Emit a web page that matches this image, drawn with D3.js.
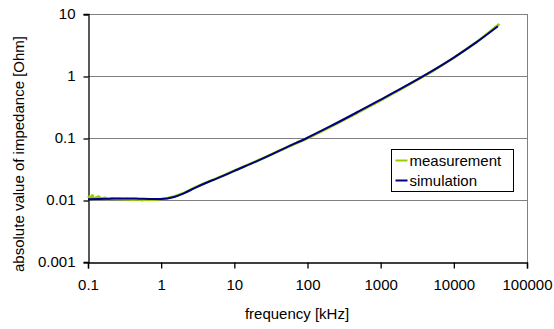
<!DOCTYPE html>
<html>
<head>
<meta charset="utf-8">
<script src="https://cdn.jsdelivr.net/npm/d3@7"></script>
<style>
  html, body { margin: 0; padding: 0; background: #fff; }
  svg { display: block; font-family: "Liberation Sans", Arial, sans-serif; }
  .tick text { font-size: 15px; fill: #000; }
</style>
</head>
<body>
<div id="chart"></div>
<script>
// Impedance vs frequency, log-log, measurement vs simulation

const xTicks = [0.1, 1, 10, 100, 1000, 10000, 100000];
const yTicks = [0.001, 0.01, 0.1, 1, 10];

const measFreq = [0.1, 0.105, 0.11, 0.115, 0.12, 0.13, 0.14, 0.15, 0.17, 0.19, 0.21, 0.24,
    0.27, 0.3, 0.35, 0.4, 0.45, 0.5, 0.55, 0.6, 0.65, 0.7, 0.8, 0.9, 1, 1.2, 1.5, 2, 3,
    4, 5, 7, 10, 20, 50, 100, 200, 500, 1000, 2000, 5000, 10000, 20000, 42000];
const measVal = [0.0108, 0.0114, 0.0106, 0.0119, 0.0104, 0.0110, 0.0114, 0.0105, 0.0109,
    0.0103, 0.0107, 0.0104, 0.0105, 0.0103, 0.0104, 0.0101, 0.0102, 0.0103, 0.0099,
    0.0102, 0.0100, 0.0102, 0.0101, 0.0103, 0.0104, 0.0107, 0.0114, 0.0128, 0.0162,
    0.0188, 0.0209, 0.0246, 0.0296, 0.0422, 0.0690, 0.099, 0.149, 0.262, 0.405, 0.635,
    1.18, 1.97, 3.45, 6.9];

const simFreq = [0.1, 0.2, 0.3, 0.5, 0.7, 1, 1.5, 2, 3, 4, 5, 7, 10, 20, 50, 100, 200,
    500, 1000, 2000, 5000, 10000, 20000, 40000];
const simVal = [0.0103, 0.0105, 0.0106, 0.0105, 0.0104, 0.0104, 0.0112, 0.0127, 0.0160,
    0.0186, 0.0208, 0.0245, 0.0295, 0.0420, 0.0695, 0.101, 0.152, 0.268, 0.415, 0.647,
    1.196, 1.98, 3.45, 6.35];

const width = 554, height = 329;
const margin = { top: 14, right: 27, bottom: 67, left: 88 };
const innerW = width - margin.left - margin.right;
const innerH = height - margin.top - margin.bottom;

const svg = d3.select("#chart").append("svg")
    .attr("width", width).attr("height", height);

const g = svg.append("g")
    .attr("transform", `translate(${margin.left},${margin.top})`);

const x = d3.scaleLog().domain([0.1, 100000]).range([0, innerW]);
const y = d3.scaleLog().domain([0.001, 10]).range([innerH, 0]);

// gridlines + frame (gray)
g.selectAll(".grid").data(yTicks.slice(1))
    .enter().append("line")
    .attr("x1", 0).attr("x2", innerW)
    .attr("y1", (d) => y(d) + 0.5).attr("y2", (d) => y(d) + 0.5)
    .attr("stroke", "#808080").attr("stroke-width", 1);
g.append("line")
    .attr("x1", innerW + 0.5).attr("x2", innerW + 0.5)
    .attr("y1", 0).attr("y2", innerH)
    .attr("stroke", "#808080");

// axes
const xAxis = g.append("g")
    .attr("transform", `translate(0,${innerH + 0.5})`)
    .call(d3.axisBottom(x).tickValues(xTicks).tickFormat((d) => String(d))
        .tickSize(6).tickPadding(8));
const yAxis = g.append("g")
    .attr("transform", "translate(0.5,0)")
    .call(d3.axisLeft(y).tickValues(yTicks).tickFormat((d) => String(d))
        .tickSize(5).tickPadding(8));
yAxis.selectAll(".tick line").attr("transform", "translate(0,0.5)");
[xAxis, yAxis].forEach((a) => {
    a.select(".domain").attr("stroke", "#000").attr("stroke-width", 1.3);
    a.selectAll(".tick line").attr("stroke", "#000").attr("stroke-width", 1.3);
});
xAxis.selectAll(".tick text").attr("dy", "0.9em");

// series
const line = d3.line().x((d) => x(d[0])).y((d) => y(d[1]));
const simLine = d3.line().x((d) => x(d[0])).y((d) => y(d[1])).curve(d3.curveMonotoneX);

g.append("path")
    .datum(d3.zip(measFreq, measVal))
    .attr("fill", "none").attr("stroke", "#99cc00")
    .attr("stroke-width", 2.6).attr("stroke-linejoin", "round")
    .attr("d", line);

g.append("path")
    .datum(d3.zip(simFreq, simVal))
    .attr("fill", "none").attr("stroke", "#000080")
    .attr("stroke-width", 2).attr("stroke-linejoin", "round")
    .attr("d", simLine);

// axis titles
svg.append("text")
    .attr("x", 297).attr("y", 319)
    .attr("text-anchor", "middle")
    .attr("font-size", 15)
    .text("frequency [kHz]");

svg.append("text")
    .attr("transform", "translate(24,154) rotate(-90)")
    .attr("text-anchor", "middle")
    .attr("font-size", 15)
    .text("absolute value of impedance [Ohm]");

// legend
const legend = svg.append("g").attr("transform", "translate(391.5,149.5)");
legend.append("rect")
    .attr("width", 122).attr("height", 42)
    .attr("fill", "#fff").attr("stroke", "#000").attr("stroke-width", 1);
const items = [["measurement", "#99cc00"], ["simulation", "#000080"]];
items.forEach(([name, color], i) => {
    const row = legend.append("g").attr("transform", `translate(0,${11 + i * 20})`);
    row.append("line")
        .attr("x1", 4).attr("x2", 16)
        .attr("stroke", color).attr("stroke-width", 2);
    row.append("text")
        .attr("x", 18).attr("dy", "0.35em")
        .attr("font-size", 15)
        .text(name);
});
</script>
</body>
</html>
